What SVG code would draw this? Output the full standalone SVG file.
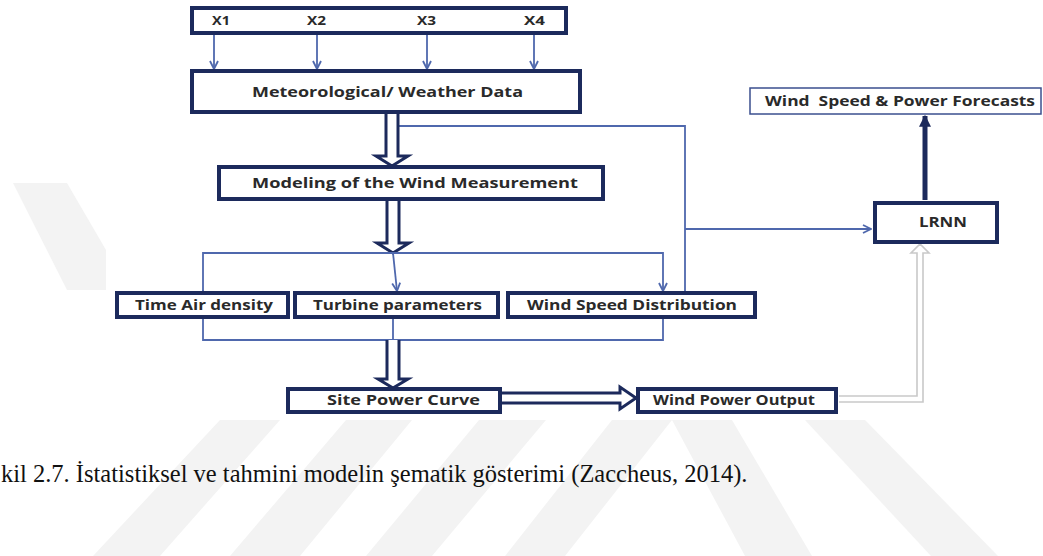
<svg xmlns="http://www.w3.org/2000/svg" width="1043" height="556" viewBox="0 0 1043 556">
<defs>
<style>
.box{fill:#fff;stroke:#1c2a5c;stroke-width:4}
.thinbox{fill:#fff;stroke:#3b4f8f;stroke-width:1.5}
.t{font-family:"Open Sans","DejaVu Sans",sans-serif;font-weight:bold;font-size:14px;fill:#2a2a2a}
.tx{font-family:"Open Sans","DejaVu Sans",sans-serif;font-weight:bold;font-size:12px;fill:#2a2a2a}
.ln{fill:none;stroke:#4f68ad;stroke-width:1.8}
.hol{fill:#fff;stroke:#1c2a5c;stroke-width:3;stroke-linejoin:miter}
.grey{fill:#fff;stroke:#c9c9c9;stroke-width:1.6}
.wm{fill:#f3f3f3}
.cap{font-family:"Liberation Serif","Times New Roman",serif;font-size:24.5px;fill:#111}
</style>
<marker id="va" viewBox="0 0 10 10" refX="9" refY="5" markerWidth="10" markerHeight="10" markerUnits="userSpaceOnUse" orient="auto">
<path d="M1,1 L9,5 L1,9" fill="none" stroke="#4f68ad" stroke-width="1.8"/>
</marker>
<marker id="sa" viewBox="0 0 10 10" refX="9" refY="5" markerWidth="12" markerHeight="12" markerUnits="userSpaceOnUse" orient="auto">
<path d="M0,0 L10,5 L0,10 Z" fill="#1c2a5c"/>
</marker>
</defs>
<rect width="1043" height="556" fill="#fff"/>
<g id="watermark">
<polygon class="wm" points="13,183 67,183 106,250 106,290 67,290"/>
<polygon class="wm" points="220,420 280,420 160,556 93,556"/>
<polygon class="wm" points="346,420 412,420 300,556 230,556"/>
<polygon class="wm" points="479,420 546,420 432,556 366,556"/>
<polygon class="wm" points="612,420 672,420 565,556 505,556"/>
<polygon class="wm" points="672,420 732,420 812,556 745,556"/>
<polygon class="wm" points="805,420 865,420 998,556 931,556"/>
</g>
<g id="connectors">
<line class="ln" x1="214" y1="35" x2="214" y2="69" marker-end="url(#va)"/>
<line class="ln" x1="317" y1="35" x2="317" y2="69" marker-end="url(#va)"/>
<line class="ln" x1="427" y1="35" x2="427" y2="69" marker-end="url(#va)"/>
<line class="ln" x1="534" y1="35" x2="534" y2="69" marker-end="url(#va)"/>
<polyline class="ln" points="399,126 685,126 685,291"/>
<line class="ln" x1="685" y1="229" x2="871" y2="229" marker-end="url(#va)"/>
<path class="hol" d="M386,113 L386,156 L376,156 L392,166 L408,156 L398,156 L398,113"/>
<path class="hol" d="M387,200 L387,243 L377,243 L393,253 L409,243 L399,243 L399,200"/>
<polyline class="ln" points="203,291 203,253 663,253 663,291" marker-start="url(#va)" marker-end="url(#va)"/>
<line class="ln" x1="393" y1="253" x2="397" y2="291" marker-end="url(#va)"/>
<polyline class="ln" points="203,319 203,340 663,340 663,319"/>
<line class="ln" x1="393" y1="319" x2="393" y2="340"/>
<path class="hol" d="M387,340 L387,379 L378,379 L393,388 L408,379 L399,379 L399,340"/>
<path class="hol" d="M502,393 L620,393 L620,387 L636,398 L620,409 L620,403 L502,403"/>
<path class="grey" d="M839,396 L917,396 L917,253 L911,253 L920,244 L929,253 L923,253 L923,402 L839,402"/>
<line x1="925" y1="200" x2="925" y2="116" stroke="#1c2a5c" stroke-width="5" marker-end="url(#sa)"/>
</g>
<g id="node-inputs">
<rect class="box" x="192" y="8" width="374" height="25"/>
<text class="tx" x="212" y="25" textLength="18" lengthAdjust="spacingAndGlyphs">X1</text>
<text class="tx" x="307" y="25" textLength="19" lengthAdjust="spacingAndGlyphs">X2</text>
<text class="tx" x="417" y="25" textLength="19" lengthAdjust="spacingAndGlyphs">X3</text>
<text class="tx" x="524" y="25" textLength="21" lengthAdjust="spacingAndGlyphs">X4</text>
</g>
<g id="node-weather">
<rect class="box" x="192" y="71" width="388" height="41"/>
<text class="t" x="252" y="97" textLength="271" lengthAdjust="spacingAndGlyphs">Meteorological/ Weather Data</text>
</g>
<g id="node-modeling">
<rect class="box" x="219" y="167" width="384" height="32"/>
<text class="t" x="252" y="188" textLength="326" lengthAdjust="spacingAndGlyphs">Modeling of the Wind Measurement</text>
</g>
<g id="node-air">
<rect class="box" x="117" y="293" width="171" height="24"/>
<text class="t" x="135" y="310" textLength="138" lengthAdjust="spacingAndGlyphs">Time Air density</text>
</g>
<g id="node-turbine">
<rect class="box" x="295" y="293" width="203" height="24"/>
<text class="t" x="313" y="310" textLength="169" lengthAdjust="spacingAndGlyphs">Turbine parameters</text>
</g>
<g id="node-distribution">
<rect class="box" x="508" y="293" width="247" height="24"/>
<text class="t" x="527" y="310" textLength="210" lengthAdjust="spacingAndGlyphs">Wind Speed Distribution</text>
</g>
<g id="node-site">
<rect class="box" x="288" y="389" width="212" height="23"/>
<text class="t" x="327" y="405" textLength="153" lengthAdjust="spacingAndGlyphs">Site Power Curve</text>
</g>
<g id="node-output">
<rect class="box" x="638" y="389" width="198" height="23"/>
<text class="t" x="653" y="405" textLength="162" lengthAdjust="spacingAndGlyphs">Wind Power Output</text>
</g>
<g id="node-lrnn">
<rect class="box" x="875" y="203" width="122" height="39"/>
<text class="t" x="919" y="227" textLength="48" lengthAdjust="spacingAndGlyphs">LRNN</text>
</g>
<g id="node-forecasts">
<rect class="thinbox" x="750" y="88" width="291" height="26"/>
<text class="t" x="765" y="106" textLength="270" lengthAdjust="spacingAndGlyphs" xml:space="preserve">Wind  Speed &amp; Power Forecasts</text>
</g>
<text class="cap" x="1" y="482">kil 2.7. İstatistiksel ve tahmini modelin şematik gösterimi (Zaccheus, 2014).</text>
</svg>
